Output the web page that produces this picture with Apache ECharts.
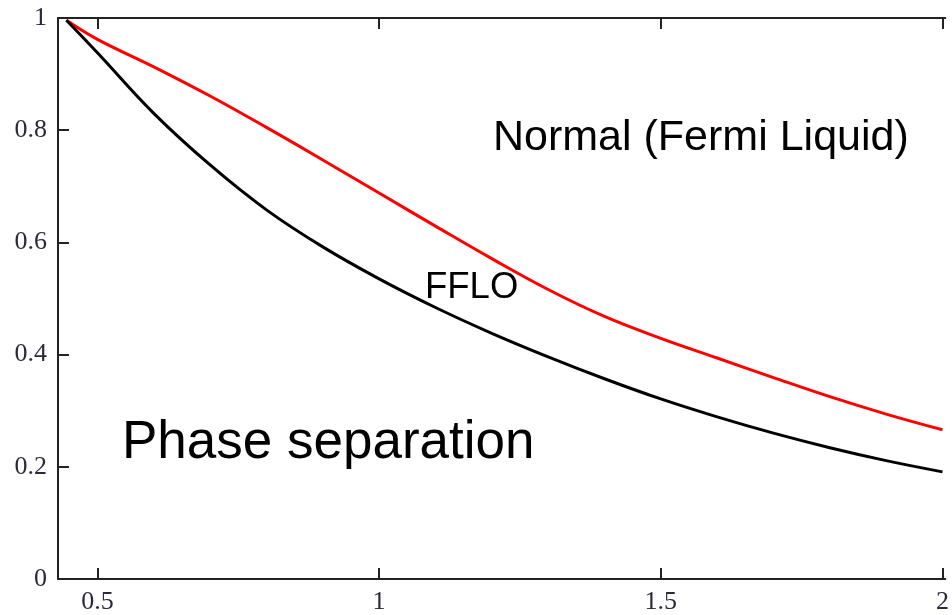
<!DOCTYPE html>
<html>
<head>
<meta charset="utf-8">
<script src="https://cdn.jsdelivr.net/npm/echarts@6/dist/echarts.min.js"></script>
<style>
  html, body { margin: 0; padding: 0; background: #fff; }
  #main { width: 952px; height: 615px; }
</style>
</head>
<body>
<div id="main"></div>
<script>
// values
var curveX = [0.445, 0.5, 0.6, 0.7, 0.8, 0.9, 1.0, 1.1, 1.2, 1.3, 1.4, 1.5, 1.6, 1.7, 1.8, 1.9, 2.0];
var blackY = [0.996, 0.938, 0.830, 0.738, 0.658, 0.592, 0.535, 0.484, 0.438, 0.396, 0.357, 0.321, 0.289, 0.260, 0.234, 0.211, 0.191];
var redY = [0.996, 0.962, 0.913, 0.861, 0.805, 0.747, 0.688, 0.629, 0.571, 0.516, 0.468, 0.429, 0.394, 0.359, 0.325, 0.294, 0.266];
var xTicks = [0.5, 1, 1.5, 2];

function pairs(xs, ys) {
    var out = [];
    for (var i = 0; i < xs.length; i++) {
        out.push([xs[i], ys[i]]);
    }
    return out;
}

var axisColor = '#222';
var labelFont = '"Liberation Serif", "DejaVu Serif", serif';
var textFont = '"Liberation Sans", Arial, sans-serif';

var chart = echarts.init(document.getElementById('main'));

var option = {
    animation: false,
    backgroundColor: '#fff',
    grid: { left: 58, right: 2, top: 18, bottom: 36 },
    xAxis: [{
        type: 'value',
        min: 0.43,
        max: 2.005,
        position: 'bottom',
        axisLine: { show: true, lineStyle: { color: axisColor, width: 2 } },
        axisTick: { show: true, inside: true, length: 11, customValues: xTicks, lineStyle: { color: axisColor, width: 2 } },
        axisLabel: {
            customValues: xTicks,
            margin: 10,
            color: '#2a2a3a',
            fontFamily: labelFont,
            fontSize: 26
        },
        splitLine: { show: false }
    }, {
        type: 'value',
        min: 0.43,
        max: 2.005,
        position: 'top',
        axisLine: { show: true, lineStyle: { color: axisColor, width: 2 } },
        axisTick: { show: true, inside: true, length: 11, customValues: xTicks, lineStyle: { color: axisColor, width: 2 } },
        axisLabel: { show: false },
        splitLine: { show: false }
    }],
    yAxis: {
        type: 'value',
        min: 0,
        max: 1,
        interval: 0.2,
        axisLine: { show: true, lineStyle: { color: axisColor, width: 2 } },
        axisTick: { show: true, inside: true, length: 11, lineStyle: { color: axisColor, width: 2 } },
        axisLabel: {
            margin: 11,
            color: '#2a2a3a',
            fontFamily: labelFont,
            fontSize: 26
        },
        splitLine: { show: false }
    },
    series: [{
        name: 'red',
        type: 'line',
        smooth: 0.4,
        symbol: 'none',
        z: 2,
        lineStyle: { color: '#ff0000', width: 3 },
        data: pairs(curveX, redY)
    }, {
        name: 'black',
        type: 'line',
        smooth: 0.4,
        symbol: 'none',
        z: 3,
        lineStyle: { color: '#000', width: 3 },
        data: pairs(curveX, blackY)
    }],
    graphic: [{
        type: 'text',
        left: 493,
        top: 117,
        style: { text: 'Normal (Fermi Liquid)', font: '43px ' + textFont, fill: '#000' }
    }, {
        type: 'text',
        left: 425,
        top: 269,
        style: { text: 'FFLO', font: '36.5px ' + textFont, fill: '#000' }
    }, {
        type: 'text',
        left: 122,
        top: 417,
        style: { text: 'Phase separation', font: '53px ' + textFont, fill: '#000' }
    }]
};

chart.setOption(option);
</script>
</body>
</html>
